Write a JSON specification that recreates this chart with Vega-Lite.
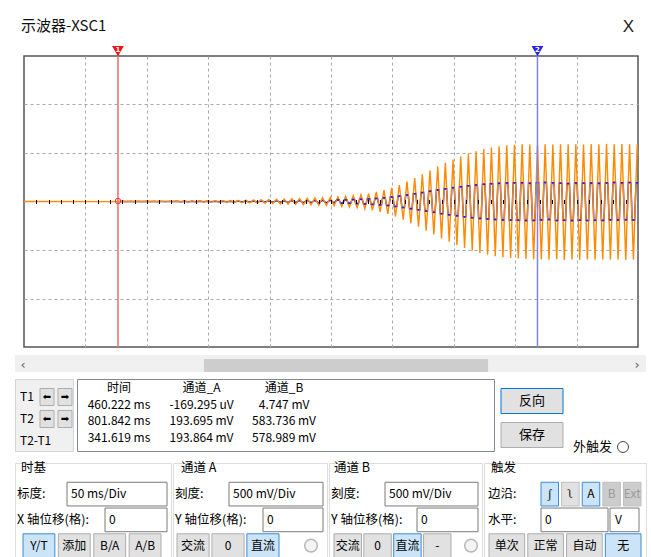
{
"$schema":"https://vega.github.io/schema/vega-lite/v6.json",
"background":"white",
"padding":{"left":14,"top":17,"right":6,"bottom":0},
"spacing":6,
"config":{"view":{"stroke":null},"axis":{"labels":false,"ticks":false,"domain":false,"grid":false},"text":{"font":"Noto Sans CJK SC","fontSize":12,"color":"#000000"},"title":{"font":"Noto Sans CJK SC","fontWeight":"normal","color":"#111111"}},
"datasets":{
"chB":[{"t":383.7,"v":0},{"t":461.22,"v":-0.001},{"t":464.34,"v":0.002},{"t":467.47,"v":-0.002},{"t":470.59,"v":0.002},{"t":473.72,"v":-0.002},{"t":476.84,"v":0.002},{"t":479.97,"v":-0.003},{"t":483.09,"v":0.003},{"t":486.22,"v":-0.003},{"t":489.34,"v":0.003},{"t":492.47,"v":-0.003},{"t":495.59,"v":0.004},{"t":498.72,"v":-0.004},{"t":501.84,"v":0.004},{"t":504.97,"v":-0.004},{"t":508.09,"v":0.005},{"t":511.22,"v":-0.005},{"t":514.34,"v":0.005},{"t":517.47,"v":-0.006},{"t":520.59,"v":0.006},{"t":523.72,"v":-0.006},{"t":526.84,"v":0.007},{"t":529.97,"v":-0.007},{"t":533.09,"v":0.007},{"t":536.22,"v":-0.008},{"t":539.34,"v":0.008},{"t":542.47,"v":-0.009},{"t":545.59,"v":0.009},{"t":548.72,"v":-0.01},{"t":551.84,"v":0.01},{"t":554.97,"v":-0.011},{"t":558.09,"v":0.012},{"t":561.22,"v":-0.013},{"t":564.34,"v":0.014},{"t":567.47,"v":-0.015},{"t":570.59,"v":0.016},{"t":573.72,"v":-0.017},{"t":576.84,"v":0.018},{"t":579.97,"v":-0.019},{"t":583.09,"v":0.02},{"t":586.22,"v":-0.021},{"t":589.34,"v":0.022},{"t":592.47,"v":-0.024},{"t":595.59,"v":0.025},{"t":598.72,"v":-0.026},{"t":601.84,"v":0.028},{"t":604.97,"v":-0.029},{"t":608.09,"v":0.03},{"t":611.22,"v":-0.032},{"t":614.34,"v":0.033},{"t":617.47,"v":-0.035},{"t":620.59,"v":0.036},{"t":623.72,"v":-0.038},{"t":626.84,"v":0.039},{"t":629.97,"v":-0.041},{"t":633.09,"v":0.043},{"t":636.22,"v":-0.045},{"t":639.34,"v":0.047},{"t":642.47,"v":-0.05},{"t":645.59,"v":0.053},{"t":648.72,"v":-0.056},{"t":651.84,"v":0.06},{"t":654.97,"v":-0.064},{"t":658.09,"v":0.069},{"t":661.22,"v":-0.075},{"t":664.34,"v":0.082},{"t":667.47,"v":-0.09},{"t":670.59,"v":0.098},{"t":673.72,"v":-0.107},{"t":676.84,"v":0.117},{"t":679.97,"v":-0.128},{"t":683.09,"v":0.141},{"t":686.22,"v":-0.155},{"t":689.34,"v":0.17},{"t":692.47,"v":-0.187},{"t":695.59,"v":0.205},{"t":698.72,"v":-0.223},{"t":701.84,"v":0.242},{"t":704.97,"v":-0.261},{"t":708.09,"v":0.28},{"t":711.22,"v":-0.3},{"t":714.34,"v":0.32},{"t":717.47,"v":-0.34},{"t":720.59,"v":0.36},{"t":723.72,"v":-0.38},{"t":726.84,"v":0.398},{"t":729.97,"v":-0.415},{"t":733.09,"v":0.432},{"t":736.22,"v":-0.448},{"t":739.34,"v":0.463},{"t":742.47,"v":-0.478},{"t":745.59,"v":0.492},{"t":748.72,"v":-0.505},{"t":751.84,"v":0.518},{"t":754.97,"v":-0.53},{"t":758.09,"v":0.54},{"t":761.22,"v":-0.549},{"t":764.34,"v":0.557},{"t":767.47,"v":-0.564},{"t":770.59,"v":0.57},{"t":773.72,"v":-0.575},{"t":776.84,"v":0.579},{"t":779.97,"v":-0.582},{"t":783.09,"v":0.585},{"t":786.22,"v":-0.587},{"t":789.34,"v":0.589},{"t":792.47,"v":-0.592},{"t":795.59,"v":0.588},{"t":798.72,"v":-0.595},{"t":801.84,"v":0.584},{"t":804.97,"v":-0.598},{"t":808.09,"v":0.59},{"t":811.22,"v":-0.6},{"t":814.34,"v":0.587},{"t":817.47,"v":-0.596},{"t":820.59,"v":0.591},{"t":823.72,"v":-0.602},{"t":826.84,"v":0.589},{"t":829.97,"v":-0.597},{"t":833.09,"v":0.592},{"t":836.22,"v":-0.6},{"t":839.34,"v":0.588},{"t":842.47,"v":-0.598},{"t":845.59,"v":0.593},{"t":848.72,"v":-0.601},{"t":851.84,"v":0.589},{"t":854.97,"v":-0.597},{"t":858.09,"v":0.594},{"t":861.22,"v":-0.6},{"t":864.34,"v":0.59},{"t":867.47,"v":-0.598},{"t":870.59,"v":0.592},{"t":873.72,"v":-0.602},{"t":876.84,"v":0.589},{"t":879.97,"v":-0.6},{"t":883.09,"v":0.591}],
"chA":[{"t":461.22,"v":0},{"t":464.34,"v":0.001},{"t":467.47,"v":-0.001},{"t":470.59,"v":0.001},{"t":473.72,"v":-0.001},{"t":476.84,"v":0.001},{"t":479.97,"v":-0.001},{"t":483.09,"v":0.001},{"t":486.22,"v":-0.001},{"t":489.34,"v":0.001},{"t":492.47,"v":-0.001},{"t":495.59,"v":0.001},{"t":498.72,"v":-0.001},{"t":501.84,"v":0.001},{"t":504.97,"v":-0.001},{"t":508.09,"v":0.002},{"t":511.22,"v":-0.002},{"t":514.34,"v":0.002},{"t":517.47,"v":-0.002},{"t":520.59,"v":0.002},{"t":523.72,"v":-0.002},{"t":526.84,"v":0.002},{"t":529.97,"v":-0.002},{"t":533.09,"v":0.002},{"t":536.22,"v":-0.003},{"t":539.34,"v":0.003},{"t":542.47,"v":-0.003},{"t":545.59,"v":0.003},{"t":548.72,"v":-0.003},{"t":551.84,"v":0.003},{"t":554.97,"v":-0.004},{"t":558.09,"v":0.004},{"t":561.22,"v":-0.004},{"t":564.34,"v":0.005},{"t":567.47,"v":-0.005},{"t":570.59,"v":0.005},{"t":573.72,"v":-0.006},{"t":576.84,"v":0.006},{"t":579.97,"v":-0.006},{"t":583.09,"v":0.007},{"t":586.22,"v":-0.007},{"t":589.34,"v":0.007},{"t":592.47,"v":-0.008},{"t":595.59,"v":0.008},{"t":598.72,"v":-0.009},{"t":601.84,"v":0.009},{"t":604.97,"v":-0.01},{"t":608.09,"v":0.01},{"t":611.22,"v":-0.011},{"t":614.34,"v":0.011},{"t":617.47,"v":-0.012},{"t":620.59,"v":0.012},{"t":623.72,"v":-0.013},{"t":626.84,"v":0.013},{"t":629.97,"v":-0.014},{"t":633.09,"v":0.014},{"t":636.22,"v":-0.015},
{"t":638.34,"v":0.016},{"t":640.34,"v":0.016},{"t":641.47,"v":-0.017},{"t":643.47,"v":-0.017},{"t":644.59,"v":0.017},{"t":646.59,"v":0.017},{"t":647.72,"v":-0.018},{"t":649.72,"v":-0.018},{"t":650.84,"v":0.02},{"t":652.84,"v":0.02},{"t":653.97,"v":-0.021},{"t":655.97,"v":-0.021},{"t":657.09,"v":0.023},{"t":659.09,"v":0.023},{"t":660.22,"v":-0.025},{"t":662.22,"v":-0.025},{"t":663.34,"v":0.027},{"t":665.34,"v":0.027},{"t":666.47,"v":-0.03},{"t":668.47,"v":-0.03},{"t":669.59,"v":0.032},{"t":671.59,"v":0.032},{"t":672.72,"v":-0.035},{"t":674.72,"v":-0.035},{"t":675.84,"v":0.039},{"t":677.84,"v":0.039},{"t":678.97,"v":-0.042},{"t":680.97,"v":-0.042},{"t":682.09,"v":0.047},{"t":684.09,"v":0.047},{"t":685.22,"v":-0.051},{"t":687.22,"v":-0.051},{"t":688.34,"v":0.056},{"t":690.34,"v":0.056},{"t":691.47,"v":-0.062},{"t":693.47,"v":-0.062},{"t":694.59,"v":0.068},{"t":696.59,"v":0.068},{"t":697.72,"v":-0.074},{"t":699.72,"v":-0.074},{"t":700.84,"v":0.08},{"t":702.84,"v":0.08},{"t":703.97,"v":-0.086},{"t":705.97,"v":-0.086},{"t":707.09,"v":0.092},{"t":709.09,"v":0.092},{"t":710.22,"v":-0.099},{"t":712.22,"v":-0.099},{"t":713.34,"v":0.106},{"t":715.34,"v":0.106},{"t":716.47,"v":-0.112},{"t":718.47,"v":-0.112},{"t":719.59,"v":0.119},{"t":721.59,"v":0.119},{"t":722.72,"v":-0.125},{"t":724.72,"v":-0.125},{"t":725.84,"v":0.131},{"t":727.84,"v":0.131},{"t":728.97,"v":-0.137},{"t":730.97,"v":-0.137},{"t":732.09,"v":0.143},{"t":734.09,"v":0.143},{"t":735.22,"v":-0.148},{"t":737.22,"v":-0.148},{"t":738.34,"v":0.153},{"t":740.34,"v":0.153},{"t":741.47,"v":-0.158},{"t":743.47,"v":-0.158},{"t":744.59,"v":0.162},{"t":746.59,"v":0.162},{"t":747.72,"v":-0.167},{"t":749.72,"v":-0.167},{"t":750.84,"v":0.171},{"t":752.84,"v":0.171},{"t":753.97,"v":-0.175},{"t":755.97,"v":-0.175},{"t":757.09,"v":0.178},{"t":759.09,"v":0.178},{"t":760.22,"v":-0.181},{"t":762.22,"v":-0.181},{"t":763.34,"v":0.184},{"t":765.34,"v":0.184},{"t":766.47,"v":-0.186},{"t":768.47,"v":-0.186},{"t":769.59,"v":0.188},{"t":771.59,"v":0.188},{"t":772.72,"v":-0.19},{"t":774.72,"v":-0.19},{"t":775.84,"v":0.191},{"t":777.84,"v":0.191},{"t":778.97,"v":-0.192},{"t":780.97,"v":-0.192},{"t":782.09,"v":0.193},{"t":784.09,"v":0.193},{"t":785.22,"v":-0.194},{"t":787.22,"v":-0.194},{"t":788.34,"v":0.194},{"t":790.34,"v":0.194},{"t":791.47,"v":-0.196},{"t":793.47,"v":-0.196},{"t":794.59,"v":0.188},{"t":796.59,"v":0.188},{"t":797.72,"v":-0.195},{"t":799.72,"v":-0.195},{"t":800.84,"v":0.194},{"t":802.84,"v":0.194},{"t":803.97,"v":-0.19},{"t":805.97,"v":-0.19},{"t":807.09,"v":0.197},{"t":809.09,"v":0.197},{"t":810.22,"v":-0.186},{"t":812.22,"v":-0.186},{"t":813.34,"v":0.193},{"t":815.34,"v":0.193},{"t":816.47,"v":-0.196},{"t":818.47,"v":-0.196},{"t":819.59,"v":0.189},{"t":821.59,"v":0.189},{"t":822.72,"v":-0.194},{"t":824.72,"v":-0.194},{"t":825.84,"v":0.185},{"t":827.84,"v":0.185},{"t":828.97,"v":-0.197},{"t":830.97,"v":-0.197},{"t":832.09,"v":0.191},{"t":834.09,"v":0.191},{"t":835.22,"v":-0.193},{"t":837.22,"v":-0.193},{"t":838.34,"v":0.188},{"t":840.34,"v":0.188},{"t":841.47,"v":-0.196},{"t":843.47,"v":-0.196},{"t":844.59,"v":0.19},{"t":846.59,"v":0.19},{"t":847.72,"v":-0.194},{"t":849.72,"v":-0.194},{"t":850.84,"v":0.187},{"t":852.84,"v":0.187},{"t":853.97,"v":-0.195},{"t":855.97,"v":-0.195},{"t":857.09,"v":0.192},{"t":859.09,"v":0.192},{"t":860.22,"v":-0.189},{"t":862.22,"v":-0.189},{"t":863.34,"v":0.196},{"t":865.34,"v":0.196},{"t":866.47,"v":-0.191},{"t":868.47,"v":-0.191},{"t":869.59,"v":0.193},{"t":871.59,"v":0.193},{"t":872.72,"v":-0.188},{"t":874.72,"v":-0.188},{"t":875.84,"v":0.195},{"t":877.84,"v":0.195},{"t":878.97,"v":-0.19},{"t":880.97,"v":-0.19},{"t":882.09,"v":0.194},{"t":884.09,"v":0.194}],
"cursors":[{"cursor":"T1","num":"1","t":460.222,"a":-0.000169,"b":0.004747},{"cursor":"T2","num":"2","t":801.842,"a":0.193695,"b":0.583736}]
},
"vconcat":[
{"hconcat":[
 {"width":1,"height":291,"data":{"values":[{}]},"mark":{"type":"point","opacity":0,"size":1},
  "title":{"text":"示波器-XSC1","anchor":"start","fontSize":15,"offset":22,"dx":6}},
 {"width":614,"height":291,
  "view":{"stroke":"#555555","strokeWidth":1.5,"fill":"white"},
  "title":{"text":"X","anchor":"end","font":"Liberation Sans","fontSize":17,"color":"#222222","offset":10,"dx":-4},
  "resolve":{"axis":{"x":"independent"}},
  "layer":[
   {"mark":{"type":"rule","color":"#5e554c","strokeWidth":1.2},
    "encoding":{"y":{"datum":0,"type":"quantitative","scale":{"domain":[-1.5,1.5],"nice":false,"zero":false},"axis":{"values":[-1,-0.5,0.5,1],"grid":true,"gridDash":[3,3],"gridColor":"#a9a9a9","title":null}}}},
   {"data":{"name":"chA"},
    "mark":{"type":"line","color":"#2020e8","strokeWidth":1.5,"clip":true},
    "encoding":{
     "x":{"field":"t","type":"quantitative","scale":{"domain":[383.7,883.7],"nice":false,"zero":false},"axis":{"orient":"bottom","values":[433.7,483.7,533.7,583.7,633.7,683.7,733.7,783.7,833.7],"grid":true,"gridDash":[3,3],"gridColor":"#a9a9a9","title":null}},
     "y":{"field":"v","type":"quantitative","scale":{"domain":[-1.5,1.5],"nice":false,"zero":false},"axis":{"values":[-1,-0.5,0.5,1],"grid":true,"gridDash":[3,3],"gridColor":"#a9a9a9","title":null}}}},
   {"data":{"name":"chB"},
    "mark":{"type":"line","color":"#ff8a00","strokeWidth":1.4,"clip":true},
    "encoding":{
     "x":{"field":"t","type":"quantitative","scale":{"domain":[383.7,883.7],"nice":false,"zero":false},"axis":null},
     "y":{"field":"v","type":"quantitative","scale":{"domain":[-1.5,1.5],"nice":false,"zero":false},"title":null}}},
   {"data":{"name":"chA"},
    "transform":[{"window":[{"op":"lead","field":"t","as":"t2"},{"op":"lead","field":"v","as":"v2"}],"sort":[{"field":"t","order":"ascending"}]},{"filter":"datum.v2 === datum.v && abs(datum.v) > 0.015"}],
    "mark":{"type":"rule","color":"#2020e8","strokeWidth":1.6,"clip":true},
    "encoding":{
     "x":{"field":"t","type":"quantitative","scale":{"domain":[383.7,883.7],"nice":false,"zero":false},"axis":null},
     "x2":{"field":"t2"},
     "y":{"field":"v","type":"quantitative","scale":{"domain":[-1.5,1.5],"nice":false,"zero":false},"title":null}}},
   {"data":{"name":"cursors"},
    "mark":{"type":"rule","strokeWidth":1.5},
    "encoding":{
     "x":{"field":"t","type":"quantitative","scale":{"domain":[383.7,883.7],"nice":false,"zero":false},"axis":{"orient":"top","offset":-147.5,"values":[393.7,403.7,413.7,423.7,433.7,443.7,453.7,463.7,473.7,483.7,493.7,503.7,513.7,523.7,533.7,543.7,553.7,563.7,573.7,583.7,593.7,603.7,613.7,623.7,633.7,643.7,653.7,663.7,673.7,683.7,693.7,703.7,713.7,723.7,733.7,743.7,753.7,763.7,773.7,783.7,793.7,803.7,813.7,823.7,833.7,843.7,853.7,863.7,873.7],"ticks":true,"tickSize":4,"tickColor":"#000000","tickWidth":1,"labels":false,"domain":false,"grid":false,"title":null,"zindex":1}},
     "stroke":{"condition":{"test":"datum.cursor==='T1'","value":"#f26a6a"},"value":"#8181f6"}}},
   {"data":{"name":"cursors"},
    "mark":{"type":"point","shape":"triangle-down","filled":true,"size":140,"opacity":1},
    "encoding":{
     "x":{"field":"t","type":"quantitative","scale":{"domain":[383.7,883.7],"nice":false,"zero":false},"axis":null},
     "y":{"datum":1.55,"type":"quantitative","scale":{"domain":[-1.5,1.5],"nice":false,"zero":false}},
     "color":{"condition":{"test":"datum.cursor==='T1'","value":"#ff1010"},"value":"#2020ff"}}},
   {"data":{"name":"cursors"},
    "mark":{"type":"text","fontSize":7,"fontWeight":"bold","color":"white","font":"DejaVu Sans"},
    "encoding":{
     "x":{"field":"t","type":"quantitative","scale":{"domain":[383.7,883.7],"nice":false,"zero":false},"axis":null},
     "y":{"datum":1.56,"type":"quantitative","scale":{"domain":[-1.5,1.5],"nice":false,"zero":false}},
     "text":{"field":"num"}}},
   {"data":{"name":"cursors"},
    "transform":[{"filter":"datum.cursor==='T1'"}],
    "mark":{"type":"point","shape":"circle","filled":false,"size":30,"color":"#ff3030","strokeWidth":1,"opacity":1},
    "encoding":{
     "x":{"field":"t","type":"quantitative","scale":{"domain":[383.7,883.7],"nice":false,"zero":false},"axis":null},
     "y":{"field":"b","type":"quantitative","scale":{"domain":[-1.5,1.5],"nice":false,"zero":false}}}}
  ]}
],"spacing":8,"bounds":"flush"},
{"width":631,"height":17,
 "view":{"fill":"#f0f0f0","stroke":null},
 "resolve":{"scale":{"x":"independent"}},
 "layer":[
  {"data":{"values":[{"from":0.288,"to":0.764}]},
   "mark":{"type":"rect","color":"#cdcdcd"},
   "encoding":{
    "x":{"field":"from","type":"quantitative","scale":{"domain":[0,1],"range":[17,614]},"axis":null},
    "x2":{"field":"to"},
    "y":{"datum":0,"type":"quantitative","scale":{"domain":[0,1]},"axis":null},
    "y2":{"datum":0.76}}},
  {"data":{"values":[{"arrow":"‹"},{"arrow":"›"}]},
   "mark":{"type":"text","fontSize":13,"color":"#606060","font":"DejaVu Sans"},
   "encoding":{
    "x":{"field":"arrow","type":"nominal","scale":{"type":"point","domain":["‹","›"],"range":[8,622],"padding":0},"axis":null},
    "y":{"datum":0.42,"type":"quantitative","axis":null},
    "text":{"field":"arrow"}}}
 ]},
{"hconcat":[
 {"width":58,"height":72,
  "view":{"fill":"#f0f0f0","stroke":"#d4d4d4"},
  "resolve":{"scale":{"x":"independent"}},
  "layer":[
   {"data":{"values":[{"c":"T1"},{"c":"T2"},{"c":"T2-T1"}]},
    "mark":{"type":"text","align":"left","fontSize":12},
    "encoding":{
     "x":{"datum":0,"type":"quantitative","scale":{"domain":[0,1],"range":[5,58]},"axis":null},
     "y":{"field":"c","type":"nominal","scale":{"type":"point","domain":["T1","T2","T2-T1"],"range":[18,62],"padding":0},"axis":null},
     "text":{"field":"c"}}},
   {"data":{"values":[{"c":"T1","d":"left","g":"⬅"},{"c":"T1","d":"right","g":"➡"},{"c":"T2","d":"left","g":"⬅"},{"c":"T2","d":"right","g":"➡"}]},
    "mark":{"type":"rect","width":14,"height":17,"fill":"#e1e1e1","stroke":"#adadad","strokeWidth":1},
    "encoding":{
     "x":{"field":"d","type":"nominal","scale":{"type":"point","domain":["left","right"],"range":[32,50],"padding":0},"axis":null},
     "y":{"field":"c","type":"nominal","scale":{"type":"point","domain":["T1","T2","T2-T1"],"range":[18,62],"padding":0},"axis":null}}},
   {"data":{"values":[{"c":"T1","d":"left","g":"⬅"},{"c":"T1","d":"right","g":"➡"},{"c":"T2","d":"left","g":"⬅"},{"c":"T2","d":"right","g":"➡"}]},
    "mark":{"type":"text","fontSize":10,"font":"DejaVu Sans"},
    "encoding":{
     "x":{"field":"d","type":"nominal","scale":{"type":"point","domain":["left","right"],"range":[32,50],"padding":0},"axis":null},
     "y":{"field":"c","type":"nominal","scale":{"type":"point","domain":["T1","T2","T2-T1"],"range":[18,62],"padding":0},"axis":null},
     "text":{"field":"g"}}}
  ]},
 {"width":417,"height":72,
  "view":{"fill":"white","stroke":"#828790"},
  "data":{"values":[
   {"row":"hdr","col":"时间","text":"时间"},{"row":"hdr","col":"通道_A","text":"通道_A"},{"row":"hdr","col":"通道_B","text":"通道_B"},
   {"row":"T1","col":"时间","text":"460.222 ms"},{"row":"T1","col":"通道_A","text":"-169.295 uV"},{"row":"T1","col":"通道_B","text":"4.747 mV"},
   {"row":"T2","col":"时间","text":"801.842 ms"},{"row":"T2","col":"通道_A","text":"193.695 mV"},{"row":"T2","col":"通道_B","text":"583.736 mV"},
   {"row":"T2-T1","col":"时间","text":"341.619 ms"},{"row":"T2-T1","col":"通道_A","text":"193.864 mV"},{"row":"T2-T1","col":"通道_B","text":"578.989 mV"}]},
  "mark":{"type":"text","fontSize":12},
  "encoding":{
   "x":{"field":"col","type":"nominal","scale":{"type":"point","domain":["时间","通道_A","通道_B"],"range":[42,207],"padding":0},"axis":null},
   "y":{"field":"row","type":"nominal","scale":{"type":"point","domain":["hdr","T1","T2","T2-T1"],"range":[9,59],"padding":0},"axis":null},
   "text":{"field":"text"}}},
 {"width":148,"height":72,
  "resolve":{"scale":{"x":"independent","y":"independent"}},
  "layer":[
   {"data":{"values":[{"b":"反向","dflt":true},{"b":"保存","dflt":false}]},
    "mark":{"type":"rect","width":62,"height":25,"fill":"#e1e1e1","strokeWidth":1},
    "encoding":{
     "x":{"field":"b","type":"nominal","scale":{"type":"point","domain":["反向","保存"],"range":[34,34],"padding":0},"axis":null},
     "y":{"field":"b","type":"nominal","scale":{"type":"point","domain":["反向","保存"],"range":[22,56],"padding":0},"axis":null},
     "stroke":{"condition":{"test":"datum.dflt","value":"#0078d7"},"value":"#adadad"}}},
   {"data":{"values":[{"b":"反向"},{"b":"保存"}]},
    "mark":{"type":"text","fontSize":13},
    "encoding":{
     "x":{"field":"b","type":"nominal","scale":{"type":"point","domain":["反向","保存"],"range":[34,34],"padding":0},"axis":null},
     "y":{"field":"b","type":"nominal","scale":{"type":"point","domain":["反向","保存"],"range":[22,56],"padding":0},"axis":null},
     "text":{"field":"b"}}},
   {"data":{"values":[{"opt":"外触发","part":"label"}]},
    "mark":{"type":"text","fontSize":13,"align":"left"},
    "encoding":{
     "x":{"field":"part","type":"nominal","scale":{"type":"point","domain":["label","radio"],"range":[75,125],"padding":0},"axis":null},
     "y":{"field":"opt","type":"nominal","scale":{"type":"point","domain":["外触发"],"range":[68,68],"padding":0},"axis":null},
     "text":{"field":"opt"}}},
   {"data":{"values":[{"opt":"外触发","part":"radio"}]},
    "mark":{"type":"point","shape":"circle","filled":true,"size":120,"fill":"white","stroke":"#444444","strokeWidth":1,"opacity":1},
    "encoding":{
     "x":{"field":"part","type":"nominal","scale":{"type":"point","domain":["label","radio"],"range":[75,125],"padding":0},"axis":null},
     "y":{"field":"opt","type":"nominal","scale":{"type":"point","domain":["外触发"],"range":[68,68],"padding":0},"axis":null}}}
  ]}
],"spacing":4,"bounds":"flush"},
{"hconcat":[
 {"width":156,"height":99,
  "view":{"stroke":"#dcdcdc"},
  "data":{"values":[
   {"row":"h","kind":"header","text":"时基"},
   {"row":"r1","kind":"label","text":"标度:"},
   {"row":"r2","kind":"label","text":"X 轴位移(格):"},
   {"row":"r1","kind":"field","text":"50 ms/Div"},
   {"row":"r2","kind":"field","text":"0"},
   {"row":"r3","kind":"button","text":"Y/T","state":"on"},
   {"row":"r3","kind":"button","text":"添加","state":"off"},
   {"row":"r3","kind":"button","text":"B/A","state":"off"},
   {"row":"r3","kind":"button","text":"A/B","state":"off"}]},
  "encoding":{"y":{"field":"row","type":"nominal","scale":{"type":"band","domain":["h","r1","r2","r3"],"range":[-7,95],"paddingInner":0.08,"paddingOuter":0.02},"axis":null}},
  "resolve":{"scale":{"x":"independent"}},
  "layer":[
   {"transform":[{"filter":"datum.kind==='header'||datum.kind==='label'"}],
    "mark":{"type":"text","align":"left","fontSize":12.5},
    "encoding":{"x":{"field":"kind","type":"nominal","scale":{"type":"point","domain":["label","header"],"range":[2,6],"padding":0},"axis":null},"text":{"field":"text"}}},
   {"transform":[{"filter":"datum.kind==='field'&&datum.row==='r1'"}],
    "mark":{"type":"rect","fill":"white","stroke":"#7a7a7a","strokeWidth":1},
    "encoding":{"x":{"field":"row","type":"nominal","scale":{"type":"band","domain":["r1"],"range":[52,152],"paddingInner":0,"paddingOuter":0},"axis":null}}},
   {"transform":[{"filter":"datum.kind==='field'&&datum.row==='r2'"}],
    "mark":{"type":"rect","fill":"white","stroke":"#7a7a7a","strokeWidth":1},
    "encoding":{"x":{"field":"row","type":"nominal","scale":{"type":"band","domain":["r2"],"range":[90,152],"paddingInner":0,"paddingOuter":0},"axis":null}}},
   {"transform":[{"filter":"datum.kind==='field'"}],
    "mark":{"type":"text","align":"left","fontSize":12},
    "encoding":{"x":{"field":"row","type":"nominal","scale":{"type":"point","domain":["r1","r2"],"range":[56,94],"padding":0},"axis":null},"text":{"field":"text"}}},
   {"transform":[{"filter":"datum.kind==='button'"}],
    "mark":{"type":"rect","strokeWidth":1},
    "encoding":{"x":{"field":"text","type":"nominal","scale":{"type":"band","domain":["Y/T","添加","B/A","A/B"],"range":[8,146],"paddingInner":0.1,"paddingOuter":0},"axis":null},
     "fill":{"condition":{"test":"datum.state==='on'","value":"#cce4f7"},"value":"#e1e1e1"},
     "stroke":{"condition":{"test":"datum.state==='on'","value":"#3a8ad8"},"value":"#adadad"}}},
   {"transform":[{"filter":"datum.kind==='button'"}],
    "mark":{"type":"text","fontSize":12},
    "encoding":{"x":{"field":"text","type":"nominal","scale":{"type":"band","domain":["Y/T","添加","B/A","A/B"],"range":[8,146],"paddingInner":0.1,"paddingOuter":0},"axis":null},"text":{"field":"text"}}}
  ]},
 {"width":154,"height":99,
  "view":{"stroke":"#dcdcdc"},
  "data":{"values":[
   {"row":"h","kind":"header","text":"通道 A"},
   {"row":"r1","kind":"label","text":"刻度:"},
   {"row":"r2","kind":"label","text":"Y 轴位移(格):"},
   {"row":"r1","kind":"field","text":"500 mV/Div"},
   {"row":"r2","kind":"field","text":"0"},
   {"row":"r3","kind":"button","text":"交流","state":"off"},
   {"row":"r3","kind":"button","text":"0","state":"off"},
   {"row":"r3","kind":"button","text":"直流","state":"on"},
   {"row":"r3","kind":"radio","text":""}]},
  "encoding":{"y":{"field":"row","type":"nominal","scale":{"type":"band","domain":["h","r1","r2","r3"],"range":[-7,95],"paddingInner":0.08,"paddingOuter":0.02},"axis":null}},
  "resolve":{"scale":{"x":"independent"}},
  "layer":[
   {"transform":[{"filter":"datum.kind==='header'||datum.kind==='label'"}],
    "mark":{"type":"text","align":"left","fontSize":12.5},
    "encoding":{"x":{"field":"kind","type":"nominal","scale":{"type":"point","domain":["label","header"],"range":[2,8],"padding":0},"axis":null},"text":{"field":"text"}}},
   {"transform":[{"filter":"datum.kind==='field'&&datum.row==='r1'"}],
    "mark":{"type":"rect","fill":"white","stroke":"#7a7a7a","strokeWidth":1},
    "encoding":{"x":{"field":"row","type":"nominal","scale":{"type":"band","domain":["r1"],"range":[56,150],"paddingInner":0,"paddingOuter":0},"axis":null}}},
   {"transform":[{"filter":"datum.kind==='field'&&datum.row==='r2'"}],
    "mark":{"type":"rect","fill":"white","stroke":"#7a7a7a","strokeWidth":1},
    "encoding":{"x":{"field":"row","type":"nominal","scale":{"type":"band","domain":["r2"],"range":[90,150],"paddingInner":0,"paddingOuter":0},"axis":null}}},
   {"transform":[{"filter":"datum.kind==='field'"}],
    "mark":{"type":"text","align":"left","fontSize":12},
    "encoding":{"x":{"field":"row","type":"nominal","scale":{"type":"point","domain":["r1","r2"],"range":[60,94],"padding":0},"axis":null},"text":{"field":"text"}}},
   {"transform":[{"filter":"datum.kind==='button'"}],
    "mark":{"type":"rect","strokeWidth":1},
    "encoding":{"x":{"field":"text","type":"nominal","scale":{"type":"band","domain":["交流","0","直流"],"range":[4,106],"paddingInner":0.08,"paddingOuter":0},"axis":null},
     "fill":{"condition":{"test":"datum.state==='on'","value":"#cce4f7"},"value":"#e1e1e1"},
     "stroke":{"condition":{"test":"datum.state==='on'","value":"#3a8ad8"},"value":"#adadad"}}},
   {"transform":[{"filter":"datum.kind==='button'"}],
    "mark":{"type":"text","fontSize":12},
    "encoding":{"x":{"field":"text","type":"nominal","scale":{"type":"band","domain":["交流","0","直流"],"range":[4,106],"paddingInner":0.08,"paddingOuter":0},"axis":null},"text":{"field":"text"}}},
   {"transform":[{"filter":"datum.kind==='radio'"}],
    "mark":{"type":"point","shape":"circle","filled":true,"size":160,"fill":"#f4f4f4","stroke":"#b8b8b8","strokeWidth":1.5,"opacity":1},
    "encoding":{"x":{"field":"kind","type":"nominal","scale":{"type":"point","domain":["radio"],"range":[138,138],"padding":0},"axis":null}}}
  ]},
 {"width":153,"height":99,
  "view":{"stroke":"#dcdcdc"},
  "data":{"values":[
   {"row":"h","kind":"header","text":"通道 B"},
   {"row":"r1","kind":"label","text":"刻度:"},
   {"row":"r2","kind":"label","text":"Y 轴位移(格):"},
   {"row":"r1","kind":"field","text":"500 mV/Div"},
   {"row":"r2","kind":"field","text":"0"},
   {"row":"r3","kind":"button","text":"交流","state":"off"},
   {"row":"r3","kind":"button","text":"0","state":"off"},
   {"row":"r3","kind":"button","text":"直流","state":"on"},
   {"row":"r3","kind":"button","text":"-","state":"off"},
   {"row":"r3","kind":"radio","text":""}]},
  "encoding":{"y":{"field":"row","type":"nominal","scale":{"type":"band","domain":["h","r1","r2","r3"],"range":[-7,95],"paddingInner":0.08,"paddingOuter":0.02},"axis":null}},
  "resolve":{"scale":{"x":"independent"}},
  "layer":[
   {"transform":[{"filter":"datum.kind==='header'||datum.kind==='label'"}],
    "mark":{"type":"text","align":"left","fontSize":12.5},
    "encoding":{"x":{"field":"kind","type":"nominal","scale":{"type":"point","domain":["label","header"],"range":[2,5],"padding":0},"axis":null},"text":{"field":"text"}}},
   {"transform":[{"filter":"datum.kind==='field'&&datum.row==='r1'"}],
    "mark":{"type":"rect","fill":"white","stroke":"#7a7a7a","strokeWidth":1},
    "encoding":{"x":{"field":"row","type":"nominal","scale":{"type":"band","domain":["r1"],"range":[56,149],"paddingInner":0,"paddingOuter":0},"axis":null}}},
   {"transform":[{"filter":"datum.kind==='field'&&datum.row==='r2'"}],
    "mark":{"type":"rect","fill":"white","stroke":"#7a7a7a","strokeWidth":1},
    "encoding":{"x":{"field":"row","type":"nominal","scale":{"type":"band","domain":["r2"],"range":[88,149],"paddingInner":0,"paddingOuter":0},"axis":null}}},
   {"transform":[{"filter":"datum.kind==='field'"}],
    "mark":{"type":"text","align":"left","fontSize":12},
    "encoding":{"x":{"field":"row","type":"nominal","scale":{"type":"point","domain":["r1","r2"],"range":[60,92],"padding":0},"axis":null},"text":{"field":"text"}}},
   {"transform":[{"filter":"datum.kind==='button'"}],
    "mark":{"type":"rect","strokeWidth":1},
    "encoding":{"x":{"field":"text","type":"nominal","scale":{"type":"band","domain":["交流","0","直流","-"],"range":[5,122],"paddingInner":0.08,"paddingOuter":0},"axis":null},
     "fill":{"condition":{"test":"datum.state==='on'","value":"#cce4f7"},"value":"#e1e1e1"},
     "stroke":{"condition":{"test":"datum.state==='on'","value":"#3a8ad8"},"value":"#adadad"}}},
   {"transform":[{"filter":"datum.kind==='button'"}],
    "mark":{"type":"text","fontSize":12},
    "encoding":{"x":{"field":"text","type":"nominal","scale":{"type":"band","domain":["交流","0","直流","-"],"range":[5,122],"paddingInner":0.08,"paddingOuter":0},"axis":null},"text":{"field":"text"}}},
   {"transform":[{"filter":"datum.kind==='radio'"}],
    "mark":{"type":"point","shape":"circle","filled":true,"size":160,"fill":"#f4f4f4","stroke":"#b8b8b8","strokeWidth":1.5,"opacity":1},
    "encoding":{"x":{"field":"kind","type":"nominal","scale":{"type":"point","domain":["radio"],"range":[142,142],"padding":0},"axis":null}}}
  ]},
 {"width":162,"height":99,
  "view":{"stroke":"#dcdcdc"},
  "data":{"values":[
   {"row":"h","kind":"header","text":"触发"},
   {"row":"r1","kind":"label","text":"边沿:"},
   {"row":"r2","kind":"label","text":"水平:"},
   {"row":"r1","kind":"edge","text":"ʃ","state":"on"},
   {"row":"r1","kind":"edge","text":"ʅ","state":"off"},
   {"row":"r1","kind":"edge","text":"A","state":"on"},
   {"row":"r1","kind":"edge","text":"B","state":"dis"},
   {"row":"r1","kind":"edge","text":"Ext","state":"dis"},
   {"row":"r2","kind":"field","slot":"level","text":"0"},
   {"row":"r2","kind":"field","slot":"unit","text":"V"},
   {"row":"r3","kind":"button","text":"单次","state":"off"},
   {"row":"r3","kind":"button","text":"正常","state":"off"},
   {"row":"r3","kind":"button","text":"自动","state":"off"},
   {"row":"r3","kind":"button","text":"无","state":"on"}]},
  "encoding":{"y":{"field":"row","type":"nominal","scale":{"type":"band","domain":["h","r1","r2","r3"],"range":[-7,95],"paddingInner":0.08,"paddingOuter":0.02},"axis":null}},
  "resolve":{"scale":{"x":"independent"}},
  "layer":[
   {"transform":[{"filter":"datum.kind==='header'||datum.kind==='label'"}],
    "mark":{"type":"text","align":"left","fontSize":12.5},
    "encoding":{"x":{"field":"kind","type":"nominal","scale":{"type":"point","domain":["label","header"],"range":[4,7],"padding":0},"axis":null},"text":{"field":"text"}}},
   {"transform":[{"filter":"datum.kind==='edge'"}],
    "mark":{"type":"rect","strokeWidth":1},
    "encoding":{"x":{"field":"text","type":"nominal","scale":{"type":"band","domain":["ʃ","ʅ","A","B","Ext"],"range":[57,157],"paddingInner":0.15,"paddingOuter":0},"axis":null},
     "fill":{"condition":[{"test":"datum.state==='on'","value":"#cce4f7"},{"test":"datum.state==='dis'","value":"#cccccc"}],"value":"#e1e1e1"},
     "stroke":{"condition":{"test":"datum.state==='on'","value":"#3a8ad8"},"value":"#bfbfbf"}}},
   {"transform":[{"filter":"datum.kind==='edge'"}],
    "mark":{"type":"text","fontSize":12},
    "encoding":{"x":{"field":"text","type":"nominal","scale":{"type":"band","domain":["ʃ","ʅ","A","B","Ext"],"range":[57,157],"paddingInner":0.15,"paddingOuter":0},"axis":null},"text":{"field":"text"},
     "color":{"condition":{"test":"datum.state==='dis'","value":"#9a9a9a"},"value":"#000000"}}},
   {"transform":[{"filter":"datum.kind==='field'&&datum.slot==='level'"}],
    "mark":{"type":"rect","fill":"white","stroke":"#7a7a7a","strokeWidth":1},
    "encoding":{"x":{"field":"slot","type":"nominal","scale":{"type":"band","domain":["level"],"range":[57,124],"paddingInner":0,"paddingOuter":0},"axis":null}}},
   {"transform":[{"filter":"datum.kind==='field'&&datum.slot==='unit'"}],
    "mark":{"type":"rect","fill":"white","stroke":"#7a7a7a","strokeWidth":1},
    "encoding":{"x":{"field":"slot","type":"nominal","scale":{"type":"band","domain":["unit"],"range":[126,155],"paddingInner":0,"paddingOuter":0},"axis":null}}},
   {"transform":[{"filter":"datum.kind==='field'"}],
    "mark":{"type":"text","align":"left","fontSize":12},
    "encoding":{"x":{"field":"slot","type":"nominal","scale":{"type":"point","domain":["level","unit"],"range":[61,131],"padding":0},"axis":null},"text":{"field":"text"}}},
   {"transform":[{"filter":"datum.kind==='button'"}],
    "mark":{"type":"rect","strokeWidth":1},
    "encoding":{"x":{"field":"text","type":"nominal","scale":{"type":"band","domain":["单次","正常","自动","无"],"range":[5,157],"paddingInner":0.08,"paddingOuter":0},"axis":null},
     "fill":{"condition":{"test":"datum.state==='on'","value":"#cce4f7"},"value":"#e1e1e1"},
     "stroke":{"condition":{"test":"datum.state==='on'","value":"#3a8ad8"},"value":"#adadad"}}},
   {"transform":[{"filter":"datum.kind==='button'"}],
    "mark":{"type":"text","fontSize":12},
    "encoding":{"x":{"field":"text","type":"nominal","scale":{"type":"band","domain":["单次","正常","自动","无"],"range":[5,157],"paddingInner":0.08,"paddingOuter":0},"axis":null},"text":{"field":"text"}}}
  ]}
],"spacing":2,"bounds":"flush"}
]
}
